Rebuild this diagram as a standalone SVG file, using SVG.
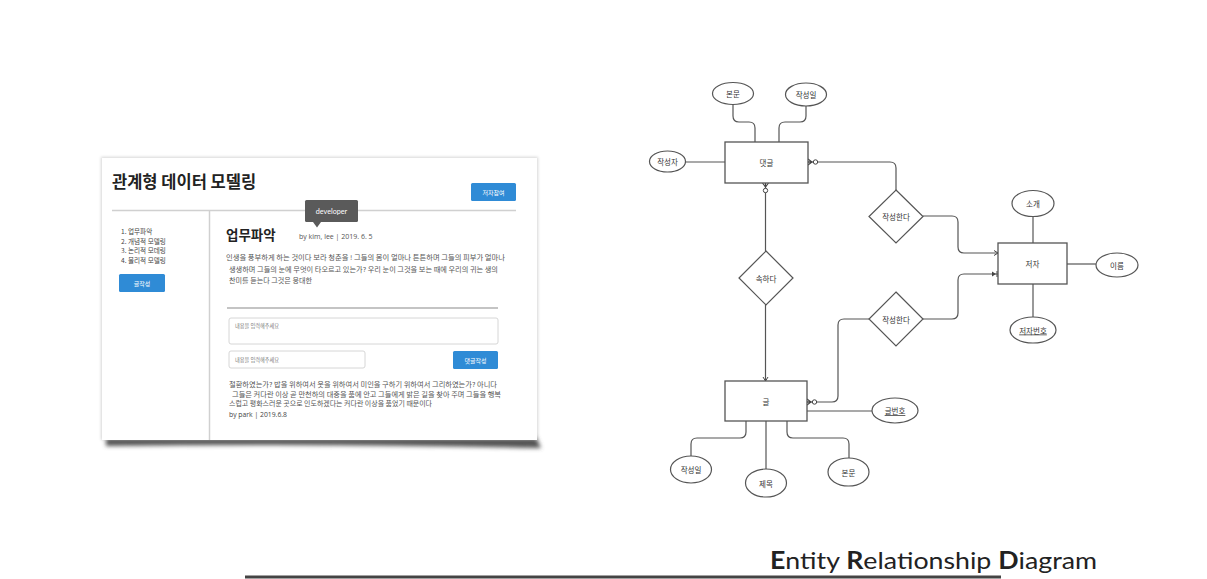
<svg xmlns="http://www.w3.org/2000/svg" width="1207" height="579" viewBox="0 0 1207 579">
<style>
.kr{font-family:"Noto Sans CJK KR","Noto Sans",sans-serif}
.ln{fill:none;stroke:#555;stroke-width:1.2}
.ent{fill:#fff;stroke:#555;stroke-width:1.3}
.att{fill:#fff;stroke:#555;stroke-width:1.2}
.lbl{font-family:"Noto Sans CJK KR","Noto Sans",sans-serif;font-size:7.5px;fill:#333;text-anchor:middle;dominant-baseline:central}
.para{font-family:"Noto Sans CJK KR","Noto Sans",sans-serif;font-size:6.4px;fill:#555}
.nav{font-family:"Noto Sans CJK KR","Noto Sans",sans-serif;font-size:6.6px;fill:#444}
.btn{fill:#2f8bd6}
.btxt{font-family:"Noto Sans CJK KR","Noto Sans",sans-serif;font-size:6px;fill:#fff;text-anchor:middle;dominant-baseline:central}
.ph{font-family:"Noto Sans CJK KR","Noto Sans",sans-serif;font-size:5.2px;fill:#777}
.box{fill:#fff;stroke:#d6d6d6;stroke-width:1}
</style>
<defs>
<filter id="blur2" x="-10%" y="-50%" width="120%" height="200%"><feGaussianBlur stdDeviation="2"/></filter>
<filter id="blur1" x="-10%" y="-10%" width="120%" height="120%"><feGaussianBlur stdDeviation="1.5"/></filter>
<marker id="zm" markerUnits="userSpaceOnUse" markerWidth="14" markerHeight="10" refX="13" refY="5" orient="auto-start-reverse" overflow="visible">
<path d="M13,2 L9,5 L13,8 M9,5 H13" fill="none" stroke="#444" stroke-width="1.1"/>
<circle cx="5.5" cy="5" r="2.2" fill="#fff" stroke="#444" stroke-width="1"/>
</marker>
<marker id="arr" markerUnits="userSpaceOnUse" markerWidth="10" markerHeight="10" refX="10" refY="5" orient="auto" overflow="visible">
<path d="M6,2.5 L10,5 L6,7.5" fill="none" stroke="#444" stroke-width="1"/>
</marker>
<marker id="one" markerUnits="userSpaceOnUse" markerWidth="12" markerHeight="10" refX="11" refY="5" orient="auto" overflow="visible">
<path d="M5,2.5 L9,5 L5,7.5 Z" fill="#444"/>
<path d="M10,2 V8" stroke="#444" stroke-width="1"/>
</marker>
</defs>
<rect width="1207" height="579" fill="#fff"/>

<!-- Left mockup card -->
<g id="mockup">
<path d="M106,437 L536,437 L541,448 Q330,443 106,446 Z" fill="#555" filter="url(#blur2)"/>
<rect x="101" y="157" width="437" height="283" fill="#bbb" filter="url(#blur1)" opacity="0.6"/>
<rect x="102" y="158" width="435" height="282" fill="#fff"/>
<text x="112" y="188" class="kr" font-size="16.5" font-weight="bold" fill="#222">관계형 데이터 모델링</text>
<rect x="471" y="183" width="45" height="18" rx="1.5" class="btn"/>
<text x="493.5" y="192" class="btxt">저자참여</text>
<line x1="112" y1="210.5" x2="516" y2="210.5" stroke="#d0d0d0" stroke-width="1.5"/>
<line x1="209.5" y1="211" x2="209.5" y2="440" stroke="#d0d0d0" stroke-width="1.5"/>
<text x="121" y="233.5" class="nav">1. 업무파악</text>
<text x="121" y="243.5" class="nav">2. 개념적 모델링</text>
<text x="121" y="253" class="nav">3. 논리적 모데링</text>
<text x="121" y="263" class="nav">4. 물리적 모델링</text>
<rect x="119" y="274" width="46" height="18" rx="1.5" class="btn"/>
<text x="142" y="283" class="btxt">글작성</text>
<rect x="305" y="200" width="53" height="22" rx="1.5" fill="#5a5a5a"/>
<path d="M313,222 L317,227.5 L321,222 Z" fill="#5a5a5a"/>
<text x="331.5" y="211.5" font-family="Lato, 'Open Sans', sans-serif" font-size="7.2" fill="#fff" text-anchor="middle" dominant-baseline="central">developer</text>
<text x="226" y="240" class="kr" font-size="13.5" font-weight="bold" fill="#222">업무파악</text>
<text x="299" y="238.5" font-family="'Open Sans','Noto Sans',sans-serif" font-size="7" fill="#555">by kim, lee   |  2019. 6. 5</text>
<text x="226" y="259.5" class="para" textLength="279" lengthAdjust="spacingAndGlyphs">인생을 풍부하게 하는 것이다 보라 청춘을 ! 그들의 몸이 얼마나 튼튼하며 그들의 피부가 얼마나</text>
<text x="229" y="271.5" class="para" textLength="269" lengthAdjust="spacingAndGlyphs">생생하며 그들의 눈에 무엇이 타오르고 있는가? 우리 눈이 그것을 보는 때에 우리의 귀는 생의</text>
<text x="229" y="282.5" class="para" textLength="83" lengthAdjust="spacingAndGlyphs">찬미를 듣는다 그것은 웅대한</text>
<line x1="227" y1="308" x2="498" y2="308" stroke="#c4c4c4" stroke-width="2"/>
<rect x="229" y="318" width="269" height="26" rx="2" class="box"/>
<text x="235" y="328" class="ph">내용을 입력해주세요</text>
<rect x="229" y="351" width="136" height="17" rx="2" class="box"/>
<text x="235" y="361.5" class="ph">내용을 입력해주세요</text>
<rect x="453" y="351" width="45" height="18" rx="1.5" class="btn"/>
<text x="475.5" y="360" class="btxt">댓글작성</text>
<text x="229" y="387" class="para" textLength="268" lengthAdjust="spacingAndGlyphs">철환하였는가? 밥을 위하여서 옷을 위하여서 미인을 구하기 위하여서 그리하였는가? 아니다</text>
<text x="232" y="396.5" class="para" textLength="269" lengthAdjust="spacingAndGlyphs">그들은 커다란 이상 곧 만천하의 대중을 품에 안고 그들에게 밝은 길을 찾아 주며 그들을 행복</text>
<text x="229" y="406" class="para" textLength="203" lengthAdjust="spacingAndGlyphs">스럽고 평화스러운 곳으로 인도하겠다는 커다란 이상을 품었기 때문이다</text>
<text x="229" y="417" font-family="'Open Sans','Noto Sans',sans-serif" font-size="6.6" fill="#444" textLength="58" lengthAdjust="spacingAndGlyphs">by park | 2019.6.8</text>
</g>

<!-- ER connectors -->
<g id="connectors">
<path class="ln" d="M733,104 V116 Q733,122 739,122 H749 Q755,122 755,128 V142"/>
<path class="ln" d="M806,106 V116 Q806,122 800,122 H785 Q779,122 779,128 V142"/>
<path class="ln" d="M685,162 H725"/>
<path class="ln" d="M808,162 H890 Q896,162 896,168 V190" marker-start="url(#zm)"/>
<path class="ln" d="M923,216 H952 Q958,216 958,222 V247 Q958,253 964,253 H998" marker-end="url(#arr)"/>
<path class="ln" d="M923,319 H952 Q958,319 958,313 V280 Q958,274 964,274 H998" marker-end="url(#one)"/>
<path class="ln" d="M869,319 H844 Q838,319 838,325 V396 Q838,402 832,402 H807" marker-end="url(#zm)"/>
<path class="ln" d="M765.5,183 V251" marker-start="url(#zm)"/>
<path class="ln" d="M765.5,305 V381" marker-end="url(#arr)"/>
<path class="ln" d="M807,411 H872"/>
<path class="ln" d="M746,421 V432 Q746,438 740,438 H697 Q691,438 691,444 V456"/>
<path class="ln" d="M766,421 V469"/>
<path class="ln" d="M787,421 V432 Q787,438 793,438 H843 Q849,438 849,444 V458"/>
<path class="ln" d="M1033,216 V243"/>
<path class="ln" d="M1067,264 H1096"/>
<path class="ln" d="M1033,284 V317"/>
</g>

<!-- Entities -->
<g id="entity-comment"><rect x="725" y="142" width="83" height="41" class="ent"/><text x="766.5" y="162.5" class="lbl">댓글</text></g>
<g id="entity-post"><rect x="725" y="381" width="82" height="40" class="ent"/><text x="766" y="401" class="lbl">글</text></g>
<g id="entity-author"><rect x="998" y="243" width="69" height="41" class="ent"/><text x="1032.5" y="263.5" class="lbl">저자</text></g>

<!-- Relationships -->
<g id="rel-write1"><path d="M896,190 L923,216.5 L896,243 L869,216.5 Z" class="att"/><text x="896" y="216.5" class="lbl">작성한다</text></g>
<g id="rel-write2"><path d="M896,292 L923,319 L896,346 L869,319 Z" class="att"/><text x="896" y="319" class="lbl">작성한다</text></g>
<g id="rel-belong"><path d="M766,251 L793,278 L766,305 L739,278 Z" class="att"/><text x="766" y="278" class="lbl">속하다</text></g>

<!-- Attributes -->
<g id="attr-c-body"><ellipse cx="733" cy="93.5" rx="20.5" ry="11" class="att"/><text x="733" y="93.5" class="lbl">본문</text></g>
<g id="attr-c-date"><ellipse cx="806" cy="94.5" rx="20.5" ry="11.5" class="att"/><text x="806" y="94.5" class="lbl">작성일</text></g>
<g id="attr-c-writer"><ellipse cx="667.5" cy="161.5" rx="18" ry="10.5" class="att"/><text x="667.5" y="161.5" class="lbl">작성자</text></g>
<g id="attr-a-intro"><ellipse cx="1033" cy="203.5" rx="21" ry="13" class="att"/><text x="1033" y="203.5" class="lbl">소개</text></g>
<g id="attr-a-name"><ellipse cx="1117" cy="265" rx="21" ry="12" class="att"/><text x="1117" y="265" class="lbl">이름</text></g>
<g id="attr-a-id"><ellipse cx="1033" cy="330" rx="23" ry="13" class="att"/><text x="1033" y="330" class="lbl" text-decoration="underline">저자번호</text></g>
<g id="attr-p-id"><ellipse cx="895" cy="410.5" rx="23" ry="12.5" class="att"/><text x="895" y="410.5" class="lbl" text-decoration="underline">글번호</text></g>
<g id="attr-p-date"><ellipse cx="691" cy="469.5" rx="20.5" ry="13.5" class="att"/><text x="691" y="469.5" class="lbl">작성일</text></g>
<g id="attr-p-title"><ellipse cx="766" cy="483" rx="20.5" ry="14" class="att"/><text x="766" y="483" class="lbl">제목</text></g>
<g id="attr-p-body"><ellipse cx="848.5" cy="472" rx="20.5" ry="14" class="att"/><text x="848.5" y="472" class="lbl">본문</text></g>

<!-- Title -->
<g id="title">
<text x="770" y="569" font-family="Lato, 'Open Sans', sans-serif" font-size="24" fill="#222" textLength="327" lengthAdjust="spacingAndGlyphs"><tspan font-weight="bold">E</tspan>ntity <tspan font-weight="bold">R</tspan>elationship <tspan font-weight="bold">D</tspan>iagram</text>
<rect x="245" y="575.5" width="756" height="3" fill="#444"/>
</g>
</svg>
